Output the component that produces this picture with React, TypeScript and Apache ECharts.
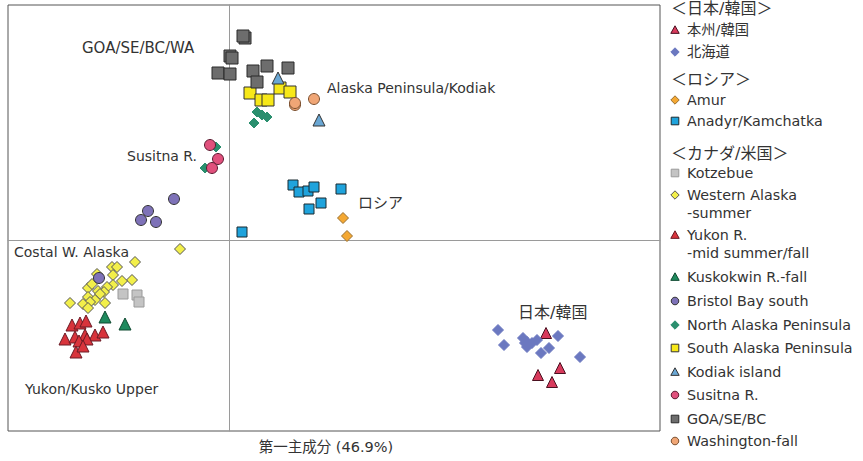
import { useEffect, useRef } from "react";
import * as echarts from "echarts";

const FONT = '"DejaVu Sans", "Noto Sans CJK JP", sans-serif';
const TEXT = "#333";

// ---- data (PC1, PC2) ----
const honshuKorea = [[3.17, -0.93], [3.09, -1.35], [3.31, -1.28], [3.23, -1.42]];
const hokkaido = [
  [2.69, -0.9], [2.75, -1.05], [2.94, -0.98], [2.98, -1.02], [2.98, -1.07], [3.03, -1.03],
  [3.08, -1.0], [2.96, -1.03], [3.29, -0.96], [3.2, -1.08], [3.12, -1.13], [3.51, -1.17],
];
const amur = [[1.14, 0.22], [1.18, 0.04]];
const anadyr = [
  [0.64, 0.55], [0.7, 0.48], [0.79, 0.49], [0.85, 0.53], [1.12, 0.51], [0.92, 0.37], [0.8, 0.31], [0.13, 0.08],
];
const kotzebue = [[-1.06, -0.54], [-0.92, -0.55], [-0.9, -0.62]];
const westernAlaska = [
  [-0.49, -0.09], [-0.94, -0.22], [-1.17, -0.27], [-1.12, -0.27], [-1.32, -0.34], [-1.16, -0.35],
  [-0.97, -0.4], [-1.07, -0.41], [-1.16, -0.45], [-1.22, -0.47], [-1.41, -0.48], [-1.31, -0.51],
  [-1.25, -0.52], [-1.29, -0.54], [-1.41, -0.57], [-1.34, -0.6], [-1.39, -0.62], [-1.24, -0.63],
  [-1.59, -0.63], [-1.46, -0.64], [-1.41, -0.68], [-1.37, -0.44],
];
const yukon = [
  [-1.57, -0.85], [-1.49, -0.83], [-1.43, -0.81], [-1.64, -0.99], [-1.54, -0.97], [-1.44, -0.95],
  [-1.34, -0.95], [-1.26, -0.92], [-1.5, -1.01], [-1.42, -0.99], [-1.53, -1.12], [-1.46, -1.06],
];
const kuskokwim = [[-1.24, -0.77], [-1.04, -0.84]];
const bristolBay = [[-0.55, 0.41], [-0.81, 0.29], [-0.88, 0.2], [-0.73, 0.18], [-1.3, -0.38]];
const northPeninsula = [[0.28, 1.28], [0.33, 1.25], [0.38, 1.23], [0.25, 1.17], [-0.13, 0.93], [-0.24, 0.72]];
const southPeninsula = [[0.21, 1.47], [0.32, 1.4], [0.39, 1.4], [0.51, 1.52], [0.61, 1.48]];
const kodiak = [[0.49, 1.62], [0.9, 1.2]];
const susitna = [[-0.19, 0.95], [-0.11, 0.81], [-0.17, 0.72]];
const goaSeBc = [
  [0.16, 2.02], [0.14, 2.04], [0.01, 1.84], [0.03, 1.82], [-0.11, 1.67], [0.01, 1.66],
  [0.24, 1.69], [0.38, 1.74], [0.59, 1.72], [0.28, 1.58],
];
const washington = [[0.66, 1.35], [0.66, 1.37], [0.85, 1.41]];

const groupHeaders = ["＜日本/韓国＞", "＜ロシア＞", "＜カナダ/米国＞"];
const plotLabels = [
  "GOA/SE/BC/WA",
  "Alaska Peninsula/Kodiak",
  "Susitna R.",
  "ロシア",
  "Costal W. Alaska",
  "日本/韓国",
  "Yukon/Kusko Upper",
];
const xAxisTitle = "第一主成分 (46.9%)";

type S = { name: string; data: number[][]; symbol: string; size: number; color: string; border: string };
const seriesDefs: S[] = [
  { name: "本州/韓国", data: honshuKorea, symbol: "triangle", size: 11, color: "#d83a5c", border: "#4a1020" },
  { name: "北海道", data: hokkaido, symbol: "diamond", size: 11, color: "#6b78c0", border: "#6b78c0" },
  { name: "Amur", data: amur, symbol: "diamond", size: 11, color: "#f4a833", border: "#9a7030" },
  { name: "Anadyr/Kamchatka", data: anadyr, symbol: "rect", size: 10, color: "#1fa3dc", border: "#1a2a30" },
  { name: "Kotzebue", data: kotzebue, symbol: "rect", size: 10, color: "#c4c4c4", border: "#9a9a9a" },
  { name: "Western Alaska\n-summer", data: westernAlaska, symbol: "diamond", size: 11, color: "#f2ef4a", border: "#555" },
  { name: "Bristol Bay south", data: bristolBay, symbol: "circle", size: 11, color: "#7e72b8", border: "#333" },
  { name: "Yukon R.\n-mid summer/fall", data: yukon, symbol: "triangle", size: 12, color: "#d8343c", border: "#6a1a24" },
  { name: "Kuskokwin R.-fall", data: kuskokwim, symbol: "triangle", size: 12, color: "#1f8a5e", border: "#0e4a30" },
  { name: "North Alaska Peninsula", data: northPeninsula, symbol: "diamond", size: 10, color: "#2a8f6e", border: "#2a8f6e" },
  { name: "South Alaska Peninsula", data: southPeninsula, symbol: "rect", size: 12, color: "#f7e819", border: "#333" },
  { name: "Kodiak island", data: kodiak, symbol: "triangle", size: 12, color: "#6aa7d4", border: "#333" },
  { name: "Susitna R.", data: susitna, symbol: "circle", size: 11, color: "#e0507c", border: "#5a1a30" },
  { name: "GOA/SE/BC", data: goaSeBc, symbol: "rect", size: 12, color: "#6d6d6d", border: "#2a2a2a" },
  { name: "Washington-fall", data: washington, symbol: "circle", size: 11, color: "#f0a676", border: "#7a5030" },
];
const legendOrder = [
  "本州/韓国", "北海道", "Amur", "Anadyr/Kamchatka", "Kotzebue", "Western Alaska\n-summer",
  "Yukon R.\n-mid summer/fall", "Kuskokwin R.-fall", "Bristol Bay south", "North Alaska Peninsula",
  "South Alaska Peninsula", "Kodiak island", "Susitna R.", "GOA/SE/BC", "Washington-fall",
];

// ---- layout (pixels) ----
const headerY = [8, 79, 153];
const legendY = [30, 52, 100, 121, 173, 195, 235, 277, 301, 325, 348, 372, 395, 419, 441];
const labelPos = [[82, 48], [327, 88], [127, 156], [358, 203], [14, 252], [518, 312], [25, 389]];
const labelSize = [15, 14, 14, 15, 14, 16, 14];

function legendMarker(symbol: string, cx: number, cy: number, color: string, border: string) {
  const r = 4.2;
  const style = { fill: color, stroke: border, lineWidth: 1 };
  if (symbol === "triangle")
    return { type: "polygon", shape: { points: [[cx, cy - r], [cx + r, cy + r * 0.8], [cx - r, cy + r * 0.8]] }, style };
  if (symbol === "diamond")
    return { type: "polygon", shape: { points: [[cx, cy - r], [cx + r, cy], [cx, cy + r], [cx - r, cy]] }, style };
  if (symbol === "circle") return { type: "circle", shape: { cx, cy, r: 3.8 }, style };
  return { type: "rect", shape: { x: cx - 3.8, y: cy - 3.8, width: 7.6, height: 7.6 }, style };
}

function txt(text: string, x: number, y: number, size = 14, align = "left") {
  return {
    type: "text",
    x,
    y,
    style: {
      text,
      fill: TEXT,
      font: `${size}px ${FONT}`,
      textAlign: align,
      textVerticalAlign: "middle",
      align,
      verticalAlign: "middle",
    },
  };
}

export default function App() {
  const ref = useRef<HTMLDivElement>(null);
  useEffect(() => {
    if (!ref.current) return;
    const chart = echarts.init(ref.current, null, { renderer: "svg" });
    const graphics: any[] = [];
    plotLabels.forEach((t, i) => graphics.push(txt(t, labelPos[i][0], labelPos[i][1], labelSize[i])));
    graphics.push(txt(xAxisTitle, 326, 447, 14.5, "center"));
    groupHeaders.forEach((t, i) => graphics.push(txt(t, 671, headerY[i], 16)));
    legendOrder.forEach((name, i) => {
      const s = seriesDefs.find((d) => d.name === name)!;
      const y = legendY[i];
      graphics.push(legendMarker(s.symbol, 675, y, s.color, s.border));
      name.split("\n").forEach((line, j) => graphics.push(txt(line, 687, y + j * 18, 14.3)));
    });

    chart.setOption({
      animation: false,
      grid: { left: 8, top: 5, width: 652, height: 426, show: true, borderColor: "#555", borderWidth: 1, backgroundColor: "#fff" },
      xAxis: {
        type: "value",
        min: -2.21,
        max: 4.31,
        axisLine: { show: true, onZero: true, lineStyle: { color: "#9a9a9a", width: 1 } },
        axisTick: { show: false },
        axisLabel: { show: false },
        splitLine: { show: false },
      },
      yAxis: {
        type: "value",
        min: -1.91,
        max: 2.35,
        axisLine: { show: true, onZero: true, lineStyle: { color: "#9a9a9a", width: 1 } },
        axisTick: { show: false },
        axisLabel: { show: false },
        splitLine: { show: false },
      },
      series: seriesDefs.map((s) => ({
        type: "scatter",
        name: s.name,
        data: s.data,
        symbol: s.symbol,
        symbolSize: s.size,
        itemStyle: { color: s.color, borderColor: s.border, borderWidth: 1, opacity: 1 },
      })),
      graphic: graphics,
    });
    return () => chart.dispose();
  }, []);
  return <div ref={ref} style={{ position: "absolute", left: 0, top: 0, width: 863, height: 461 }} />;
}
